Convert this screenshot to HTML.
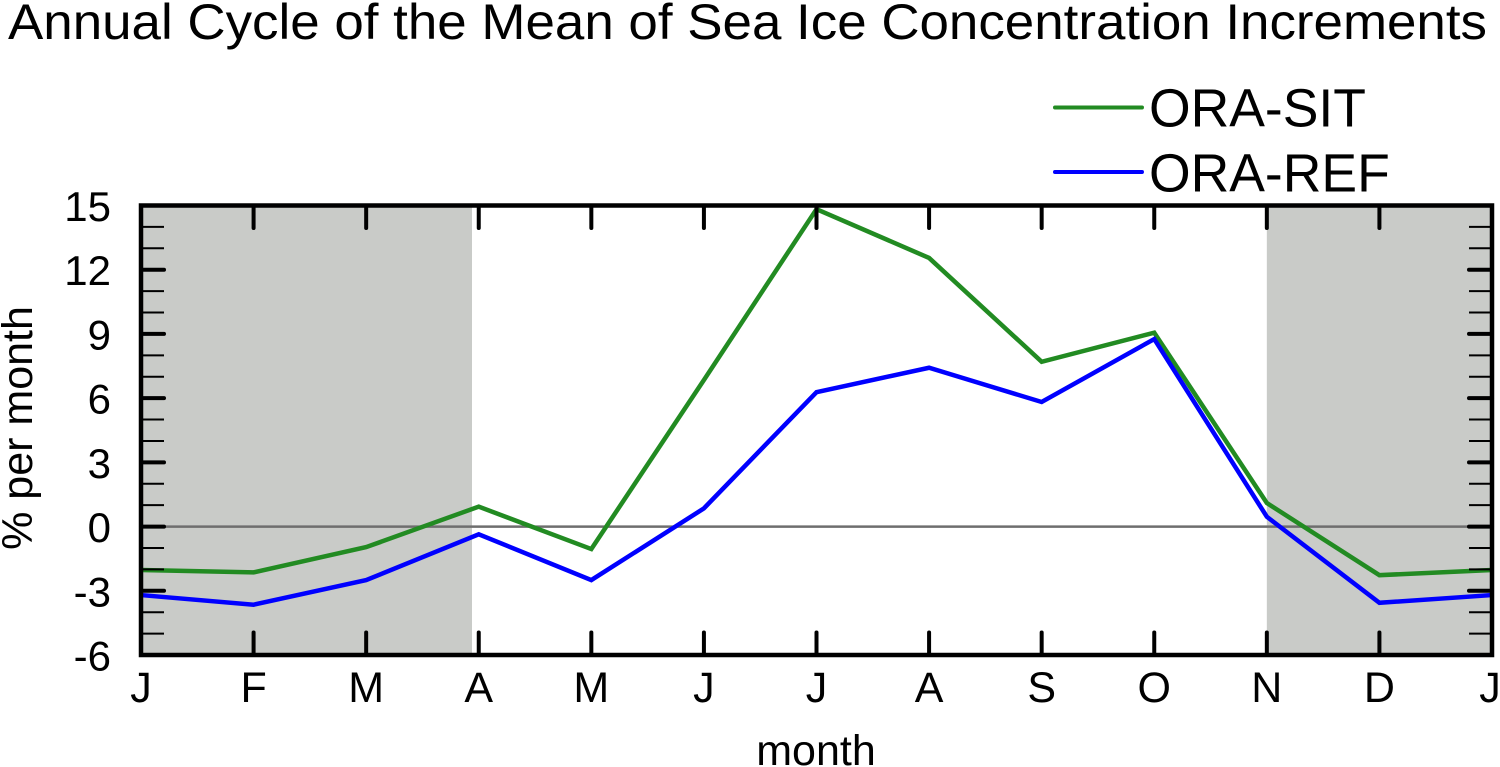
<!DOCTYPE html>
<html>
<head>
<meta charset="utf-8">
<title>Annual Cycle of the Mean of Sea Ice Concentration Increments</title>
<style>
  html, body { margin: 0; padding: 0; background: #fff; }
  svg { display: block; font-family: "Liberation Sans", Arial, sans-serif; fill: #000; }
</style>
</head>
<body>
<svg id="chart" xmlns="http://www.w3.org/2000/svg" width="1500" height="767" viewBox="0 0 1500 767">
  <rect width="1500" height="767" fill="#fff"/>
  <g id="bands"></g>
  <g id="zero"></g>
  <g id="series"></g>
  <g id="axes"></g>
  <text x="747.5" y="39" font-size="50" text-anchor="middle" textLength="1479" lengthAdjust="spacingAndGlyphs">Annual Cycle of the Mean of Sea Ice Concentration Increments</text>
  <text x="816" y="765" font-size="43" text-anchor="middle">month</text>
  <text transform="translate(32 428) rotate(-90)" font-size="43" text-anchor="middle">% per month</text>
  <g>
    <line x1="1055" y1="107.5" x2="1142" y2="107.5" stroke="#228b22" stroke-width="4" stroke-linecap="round"/>
    <text x="1149" y="126.5" font-size="53.5">ORA-SIT</text>
    <line x1="1055" y1="172" x2="1142" y2="172" stroke="#0000ff" stroke-width="4" stroke-linecap="round"/>
    <text x="1149" y="191.5" font-size="53.5">ORA-REF</text>
  </g>
</svg>
<script>
const months = ["J", "F", "M", "A", "M", "J", "J", "A", "S", "O", "N", "D", "J"];
const oraSit = [-2.03, -2.14, -0.96, 0.93, -1.05, 6.85, 14.83, 12.55, 7.7, 9.06, 1.1, -2.27, -2.03];
const oraRef = [-3.2, -3.65, -2.5, -0.36, -2.5, 0.85, 6.28, 7.42, 5.82, 8.76, 0.46, -3.56, -3.2];
const yTickLabels = [15, 12, 9, 6, 3, 0, -3, -6];
const yMinorTicks = [14, 13, 11, 10, 8, 7, 5, 4, 2, 1, -1, -2, -4, -5];
const shadedBands = [[0, 2.94], [10, 12]];

const plotLeft = 141, plotRight = 1492, plotTop = 205.5, plotBottom = 655;
const yMax = 15, yMin = -6;
const xScale = function (m) { return plotLeft + m * (plotRight - plotLeft) / 12; };
const yScale = function (v) { return plotTop + (yMax - v) * (plotBottom - plotTop) / (yMax - yMin); };
const SVGNS = "http://www.w3.org/2000/svg";
function make(tag, parent, attrs, text) {
  const el = document.createElementNS(SVGNS, tag);
  for (const k in attrs) el.setAttribute(k, attrs[k]);
  if (text !== undefined) el.textContent = text;
  parent.appendChild(el);
  return el;
}
const bandsG = document.getElementById("bands");
const zeroG = document.getElementById("zero");
const seriesG = document.getElementById("series");
const axesG = document.getElementById("axes");

shadedBands.forEach(function (b) {
  const r = make("rect", bandsG, { x: xScale(b[0]), y: plotTop, width: xScale(b[1]) - xScale(b[0]), height: plotBottom - plotTop, fill: "#c9cbc8" });
  
  
});

const zl = make("line", zeroG, { x1: plotLeft, x2: plotRight, y1: yScale(0), y2: yScale(0), stroke: "#6e6e6e", "stroke-width": 2.5 });



function linePoints(vals) {
  return vals.map(function (v, i) { return xScale(i) + "," + yScale(v); }).join(" ");
}
const lineSit = make("polyline", seriesG, { points: linePoints(oraSit), fill: "none", stroke: "#228b22", "stroke-width": 4.5, "stroke-linejoin": "miter" });


const lineRef = make("polyline", seriesG, { points: linePoints(oraRef), fill: "none", stroke: "#0000ff", "stroke-width": 4.5, "stroke-linejoin": "miter" });



months.forEach(function (label, i) {
  const x = xScale(i);
  if (i > 0 && i < months.length - 1) {
    const t1 = make("line", axesG, { x1: x, x2: x, y1: plotTop, y2: plotTop + 22.5, stroke: "#000", "stroke-width": 4, "stroke-linecap": "round" });
    
    
    const t2 = make("line", axesG, { x1: x, x2: x, y1: plotBottom, y2: plotBottom - 22.5, stroke: "#000", "stroke-width": 4, "stroke-linecap": "round" });
    
    
  }
  const lbl = make("text", axesG, { x: i === months.length - 1 ? x - 2 : x, y: 702, "font-size": 43, "text-anchor": "middle" }, label);
  
  
});

yTickLabels.forEach(function (v) {
  const y = yScale(v);
  if (v !== yMax && v !== yMin) {
    const t1 = make("line", axesG, { x1: plotLeft, x2: plotLeft + 23, y1: y, y2: y, stroke: "#000", "stroke-width": 4, "stroke-linecap": "round" });
    
    
    const t2 = make("line", axesG, { x1: plotRight, x2: plotRight - 23, y1: y, y2: y, stroke: "#000", "stroke-width": 4, "stroke-linecap": "round" });
    
    
  }
  const lbl = make("text", axesG, { x: 111, y: y + 15.5, "font-size": 42, "text-anchor": "end" }, String(v));
  
  
});

yMinorTicks.forEach(function (v) {
  const y = yScale(v);
  const t1 = make("line", axesG, { x1: plotLeft, x2: plotLeft + 23, y1: y, y2: y, stroke: "#000", "stroke-width": 2 });
  
  
  const t2 = make("line", axesG, { x1: plotRight, x2: plotRight - 23, y1: y, y2: y, stroke: "#000", "stroke-width": 2 });
  
  
});

const frame = make("rect", axesG, { x: plotLeft, y: plotTop, width: plotRight - plotLeft, height: plotBottom - plotTop, fill: "none", stroke: "#000", "stroke-width": 4.5 });


</script>
</body>
</html>
